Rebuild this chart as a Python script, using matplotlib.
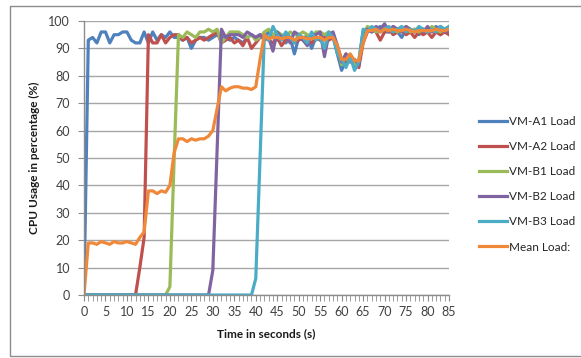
import matplotlib.pyplot as plt
from matplotlib.patches import Rectangle
from matplotlib.ticker import MultipleLocator

# --------------------------
# Data (CPU load per second)
# --------------------------
seconds = list(range(86))

vm_a1 = [0, 93, 94, 92, 96, 96, 92, 95, 95, 96, 96, 93, 92, 92, 96, 92, 96, 93, 95, 94,
         96, 94, 94, 93, 94, 90, 93, 94, 94, 93, 94, 95, 94, 94, 93, 94, 93, 92, 94, 95,
         94, 95, 94, 96, 94, 93, 95, 92, 94, 88, 94, 93, 95, 90, 94, 93, 95, 94, 95, 88,
         82, 86, 86, 85, 84, 96, 97, 96, 97, 98, 96, 96, 98, 96, 94, 97, 96, 97, 95, 97,
         96, 97, 98, 95, 97, 96]

vm_a2 = [0, 0, 0, 0, 0, 0, 0, 0, 0, 0, 0, 0, 0, 10, 21, 95, 92, 92, 95, 92,
         94, 95, 95, 93, 94, 92, 93, 94, 93, 94, 95, 96, 92, 93, 94, 92, 93, 91, 94, 90,
         92, 94, 95, 93, 92, 94, 91, 93, 94, 92, 93, 94, 93, 92, 94, 93, 94, 93, 94, 90,
         86, 85, 87, 84, 83, 92, 96, 97, 96, 93, 96, 97, 95, 96, 97, 95, 96, 94, 96, 95,
         96, 94, 96, 95, 96, 95]

vm_b1 = [0, 0, 0, 0, 0, 0, 0, 0, 0, 0, 0, 0, 0, 0, 0, 0, 0, 0, 0, 0,
         3, 50, 95, 94, 96, 95, 94, 96, 96, 97, 96, 97, 92, 94, 96, 96, 96, 95, 94, 95,
         93, 94, 96, 97, 95, 96, 95, 94, 96, 95, 95, 96, 95, 94, 96, 96, 95, 96, 95, 91,
         84, 88, 87, 84, 86, 95, 98, 97, 96, 97, 98, 96, 97, 96, 97, 98, 96, 97, 96, 97,
         96, 98, 97, 96, 97, 98]

vm_b2 = [0, 0, 0, 0, 0, 0, 0, 0, 0, 0, 0, 0, 0, 0, 0, 0, 0, 0, 0, 0,
         0, 0, 0, 0, 0, 0, 0, 0, 0, 0, 9, 53, 97, 94, 95, 95, 95, 94, 96, 95,
         94, 95, 93, 94, 89, 96, 94, 95, 92, 96, 95, 93, 91, 95, 95, 96, 87, 95, 96, 91,
         85, 88, 85, 86, 84, 96, 97, 96, 98, 97, 99, 96, 98, 97, 96, 98, 97, 96, 97, 96,
         98, 96, 97, 98, 96, 97]

vm_b3 = [0, 0, 0, 0, 0, 0, 0, 0, 0, 0, 0, 0, 0, 0, 0, 0, 0, 0, 0, 0,
         0, 0, 0, 0, 0, 0, 0, 0, 0, 0, 0, 0, 0, 0, 0, 0, 0, 0, 0, 0,
         6, 50, 95, 93, 98, 95, 93, 96, 94, 92, 95, 94, 92, 96, 93, 94, 90, 96, 94, 88,
         86, 83, 87, 82, 85, 97, 96, 98, 97, 96, 97, 98, 96, 97, 98, 96, 97, 96, 98, 97,
         96, 97, 96, 98, 97, 98]

mean_load = [0, 19, 19, 18.5, 19.5, 19, 18.5, 19.5, 19, 19, 19.5, 19, 18.5, 21, 23, 38, 38, 37, 38, 37.5,
             40, 52, 57, 57, 56, 57, 56.5, 57, 57, 58, 60, 68, 76, 74.5, 75.5, 76, 76, 75.5, 75.5, 75,
             76, 86, 95, 93.5, 94, 94, 93.5, 94, 94, 93, 94, 94, 93.5, 93.5, 94, 94, 93, 94, 94, 91,
             86, 86, 88, 85.5, 85.5, 92, 96.5, 96.5, 97, 96, 97, 96.5, 97, 96.5, 96.5, 97, 96.5, 96, 96.5, 96.5,
             96.5, 96.5, 97, 96.5, 96.5, 97]

series_labels = ["VM-A1 Load", "VM-A2 Load", "VM-B1 Load", "VM-B2 Load", "VM-B3 Load", "Mean Load:"]
series_colors = ["#4F81BD", "#C0504D", "#9BBB59", "#8064A2", "#4BACC6", "#F0883A"]

# --------------------------
# Plot
# --------------------------
plt.rcParams['font.family'] = ['Lato', 'DejaVu Sans']

fig = plt.figure(figsize=(5.81, 3.58), dpi=100)
ax = fig.add_axes([84 / 581, 1 - 295 / 358, 365 / 581, 274 / 358])

all_series = [vm_a1, vm_a2, vm_b1, vm_b2, vm_b3, mean_load]
for values, label, color in zip(all_series, series_labels, series_colors):
    ax.plot(seconds, values, color=color, lw=2.3, label=label, solid_joinstyle="round")

ax.set_xlim(0, 85)
ax.set_ylim(0, 100)
ax.xaxis.set_major_locator(MultipleLocator(5))
ax.xaxis.set_minor_locator(MultipleLocator(1))
ax.yaxis.set_major_locator(MultipleLocator(10))

ax.grid(True, axis="y", color="#a6a6a6", lw=1)
ax.set_axisbelow(True)
for side in ["top", "right"]:
    ax.spines[side].set_visible(False)
for side in ["left", "bottom"]:
    ax.spines[side].set_color("#8c8c8c")
    ax.spines[side].set_linewidth(1)

ax.tick_params(axis="both", which="both", colors="#8c8c8c", labelcolor="#404040", labelsize=9)
ax.tick_params(axis="x", which="major", length=4, pad=4)
ax.tick_params(axis="x", which="minor", length=4)
ax.tick_params(axis="y", length=4, pad=6)

ax.set_xlabel("Time in seconds (s)", fontsize=8.5, fontweight="bold", color="#1a1a1a", labelpad=7)
ax.set_ylabel("CPU Usage in percentage (%)", fontsize=8.5, fontweight="bold", color="#1a1a1a", labelpad=6)

leg = ax.legend(loc="upper left", bbox_to_anchor=(474 / 581, 1 - 111 / 358),
                bbox_transform=fig.transFigure, frameon=False, fontsize=8.5,
                handlelength=2.4, handletextpad=0.2, labelspacing=1.2, borderaxespad=0)
for text in leg.get_texts():
    text.set_color("#262626")

# chart area border
fig.add_artist(Rectangle((10 / 581, 2 / 358), 580 / 581, 350 / 358, transform=fig.transFigure,
                         fill=False, edgecolor="#8c8c8c", lw=1))

fig.savefig("out.png", dpi=100)
